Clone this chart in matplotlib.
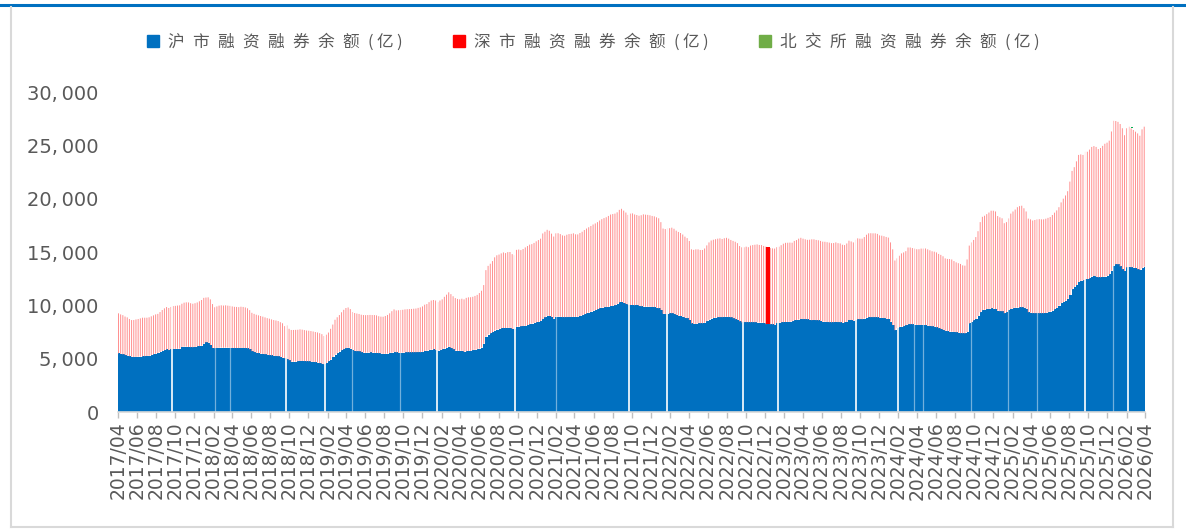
import pandas as pd
import matplotlib
matplotlib.use('Agg')
import matplotlib.pyplot as plt
from matplotlib.lines import Line2D
from matplotlib.font_manager import FontProperties

# weekly (Friday) margin balances in 100m yuan
start_week = '2017-04-14'

# Shanghai balance (blue)
sh_balance = [
    5500, 5450, 5400, 5330, 5280, 5230, 5190, 5150, 5170, 5190, 5200, 5210, 5220,
    5250, 5270, 5330, 5400, 5470, 5520, 5620, 5720, 5800, 5870, 5800, 5880, 5900,
    5920, 5930, 5940, 6100, 6130, 6130, 6100, 6070, 6060, 6100, 6150, 6180, 6230,
    6400, 6520, 6500, 6280, 6000, 5970, 6000, 6030, 6040, 6030, 6040, 6040, 6020,
    6000, 5990, 5990, 5990, 6010, 6000, 5990, 5960, 5880, 5700, 5620, 5560, 5520,
    5480, 5440, 5400, 5370, 5330, 5300, 5270, 5240, 5220, 5150, 5100, 5040, 4950,
    4850, 4720, 4720, 4730, 4750, 4780, 4780, 4770, 4750, 4740, 4720, 4700, 4670,
    4640, 4580, 4520, 4460, 4580, 4750, 4900, 5150, 5360, 5500, 5650, 5780, 5880,
    5970, 6020, 5950, 5820, 5720, 5690, 5680, 5600, 5570, 5560, 5570, 5580, 5570,
    5560, 5540, 5510, 5480, 5450, 5460, 5480, 5520, 5560, 5620, 5580, 5560, 5550,
    5570, 5580, 5580, 5580, 5580, 5580, 5590, 5600, 5600, 5650, 5720, 5740, 5800,
    5850, 5870, 5800, 5720, 5790, 5870, 5950, 6030, 6120, 6000, 5870, 5760, 5730,
    5730, 5740, 5640, 5690, 5720, 5740, 5790, 5840, 5880, 5950, 6040, 6400, 7060,
    7260, 7360, 7480, 7640, 7720, 7770, 7840, 7870, 7870, 7890, 7890, 7780, 7740,
    7990, 8010, 8020, 8050, 8080, 8150, 8210, 8290, 8350, 8400, 8450, 8530, 8700,
    8860, 9020, 9010, 8900, 8760, 8930, 8940, 8930, 8890, 8880, 8890, 8900, 8900,
    8920, 8920, 8930, 9000, 9070, 9150, 9240, 9320, 9400, 9490, 9550, 9630, 9720,
    9780, 9810, 9830, 9870, 9930, 9950, 10000, 10120, 10270, 10330, 10230, 10120, 10040,
    10030, 10030, 10000, 10030, 9960, 9900, 9880, 9875, 9875, 9870, 9850, 9830, 9780,
    9720, 9570, 9220, 9180, 9190, 9240, 9250, 9220, 9100, 9030, 9000, 8940, 8850,
    8790, 8620, 8300, 8250, 8260, 8310, 8310, 8310, 8370, 8500, 8640, 8760, 8810,
    8850, 8870, 8880, 8880, 8900, 8930, 8900, 8860, 8780, 8690, 8630, 8500, 8400,
    8410, 8420, 8410, 8410, 8410, 8400, 8390, 8390, 8390, 8340, 8230, 8250, 8220,
    8210, 8170, 8330, 8380, 8400, 8420, 8440, 8440, 8460, 8500, 8600, 8620, 8670,
    8710, 8700, 8700, 8680, 8650, 8600, 8620, 8600, 8580, 8540, 8470, 8470, 8430,
    8410, 8400, 8410, 8440, 8420, 8400, 8380, 8400, 8450, 8620, 8620, 8560, 8640,
    8690, 8690, 8690, 8760, 8840, 8880, 8880, 8880, 8880, 8870, 8840, 8820, 8800,
    8760, 8720, 8480, 8160, 7670, 7860, 7950, 8000, 8030, 8130, 8210, 8220, 8220,
    8200, 8170, 8160, 8160, 8170, 8150, 8100, 8060, 8020, 7990, 7930, 7850, 7770,
    7700, 7620, 7580, 7540, 7530, 7510, 7470, 7440, 7380, 7370, 7360, 7500, 8300,
    8420, 8580, 8720, 9000, 9350, 9540, 9590, 9640, 9670, 9710, 9700, 9650, 9500,
    9440, 9430, 9260, 9350, 9560, 9650, 9710, 9770, 9790, 9810, 9810, 9790, 9700,
    9350, 9320, 9260, 9250, 9250, 9250, 9250, 9250, 9280, 9340, 9420, 9500, 9620,
    9770, 9980, 10200, 10300, 10440, 10620, 10970, 11500, 11720, 11900, 12200, 12300, 12330,
    12440, 12460, 12520, 12700, 12750, 12680, 12620, 12620, 12660, 12700, 12750, 12900, 13250,
    13700, 13840, 13840, 13650, 13380, 13220, 13550, 13620, 13560, 13540, 13500, 13380, 13310,
    13480, 13620,
]

# Shanghai + Shenzhen (top of the red column)
total_balance = [
    9250, 9150, 9080, 8950, 8870, 8720, 8620, 8620, 8680, 8720, 8780, 8840, 8840,
    8840, 8880, 8970, 9060, 9150, 9200, 9370, 9560, 9720, 9840, 9750, 9850, 9930,
    9950, 9980, 10000, 10150, 10250, 10280, 10270, 10200, 10150, 10200, 10270, 10380, 10500,
    10700, 10730, 10750, 10560, 10120, 9820, 9900, 9970, 10000, 9980, 10000, 9970, 9950,
    9900, 9860, 9850, 9830, 9870, 9850, 9800, 9720, 9550, 9300, 9200, 9120, 9060,
    9000, 8940, 8870, 8800, 8750, 8680, 8620, 8580, 8530, 8420, 8320, 8050, 8120,
    7800, 7690, 7690, 7700, 7710, 7750, 7720, 7680, 7640, 7620, 7590, 7550, 7500,
    7460, 7390, 7300, 7120, 7250, 7450, 7800, 8200, 8650, 8880, 9090, 9350, 9580,
    9750, 9800, 9650, 9370, 9280, 9230, 9190, 9120, 9090, 9080, 9090, 9100, 9090,
    9090, 9060, 8980, 8940, 8930, 9000, 9100, 9250, 9450, 9620, 9520, 9540, 9560,
    9580, 9620, 9640, 9650, 9660, 9680, 9700, 9760, 9810, 9900, 10060, 10120, 10300,
    10450, 10500, 10450, 10300, 10450, 10560, 10800, 11000, 11220, 11050, 10850, 10680, 10600,
    10560, 10620, 10560, 10700, 10750, 10760, 10800, 10880, 10980, 11150, 11370, 11900, 13300,
    13700, 13900, 14150, 14500, 14690, 14760, 14870, 14960, 14900, 14990, 15000, 14800, 14700,
    15200, 15230, 15180, 15280, 15430, 15560, 15690, 15740, 15850, 16000, 16120, 16250, 16740,
    16900, 17080, 16990, 16720, 16450, 16750, 16760, 16680, 16560, 16520, 16620, 16680, 16700,
    16750, 16660, 16650, 16780, 16900, 17060, 17200, 17320, 17440, 17580, 17680, 17800, 17950,
    18080, 18180, 18260, 18380, 18510, 18560, 18600, 18720, 18950, 19050, 18880, 18700, 18480,
    18600, 18620, 18520, 18470, 18400, 18450, 18530, 18500, 18480, 18440, 18380, 18340, 18250,
    18160, 17800, 17200, 17150, 17220, 17230, 17280, 17180, 17000, 16880, 16780, 16640, 16440,
    16300, 16030, 15250, 15200, 15250, 15250, 15190, 15190, 15330, 15620, 15900, 16080, 16150,
    16200, 16250, 16280, 16220, 16290, 16330, 16250, 16130, 16040, 15960, 15830, 15560, 15440,
    15440, 15500, 15450, 15600, 15650, 15680, 15710, 15660, 15650, 15570, 15500, 15440, 15370,
    15340, 15320, 15450, 15500, 15640, 15780, 15860, 15870, 15880, 15870, 16040, 16120, 16250,
    16330, 16250, 16190, 16140, 16150, 16190, 16190, 16130, 16100, 16040, 15970, 15960, 15920,
    15880, 15830, 15840, 15900, 15830, 15800, 15680, 15650, 15800, 16060, 15990, 15900, 16150,
    16280, 16250, 16250, 16400, 16620, 16750, 16760, 16750, 16750, 16700, 16560, 16530, 16480,
    16410, 16350, 15900, 15250, 14200, 14400, 14650, 14870, 14960, 15080, 15420, 15420, 15370,
    15320, 15260, 15260, 15320, 15320, 15330, 15250, 15160, 15070, 15030, 14960, 14820, 14730,
    14600, 14400, 14350, 14340, 14300, 14150, 14030, 13950, 13880, 13750, 13720, 14300, 15600,
    15900, 16130, 16400, 16950, 17800, 18300, 18400, 18550, 18700, 18870, 18870, 18800, 18370,
    18250, 18160, 17700, 17800, 18150, 18600, 18800, 18980, 19200, 19300, 19340, 19100, 18800,
    18130, 18060, 17950, 18000, 18060, 18080, 18060, 18060, 18120, 18200, 18280, 18470, 18690,
    18900, 19200, 19650, 20000, 20300, 20700, 21600, 22600, 22950, 23500, 24100, 24150, 24100,
    24400, 24400, 24600, 24850, 24930, 24850, 24650, 24750, 24950, 25150, 25250, 25440, 26300,
    27300, 27280, 27200, 27000, 26600, 25950, 26600, 26750, 26590, 26440, 26280, 26120, 25900,
    26500, 26750,
]

# Beijing exchange balance: only visible as one small mark near the end
bse_dates = ['2026-02-27']
bse_balance = [110]

# week that shows up as a solid red column in the original
highlight_date = '2022-12-23'

# market closures that leave white gaps in the columns
holiday_gaps = ['2017-10-04', '2018-10-04', '2019-02-06', '2020-01-29', '2020-10-05',
                '2021-10-04', '2022-02-03', '2022-10-04', '2023-01-25', '2023-10-02',
                '2024-02-13', '2025-10-04', '2026-02-18']
light_gaps = ['2018-02-18', '2018-04-06', '2019-05-02', '2019-10-04', '2021-02-14',
              '2024-04-05', '2024-05-03', '2024-10-04', '2025-01-31', '2025-05-03',
              '2026-01-01']

series_names = ['沪市融资融券余额(亿)', '深市融资融券余额(亿)', '北交所融资融券余额(亿)']

blue = '#0070C0'
red_light = '#FF8A8A'
red = '#FF0000'
green = '#70AD47'
grey_text = '#595959'

dates = pd.date_range(start_week, periods=len(sh_balance), freq='W-FRI')
sh = pd.Series(sh_balance, index=dates)
sz = pd.Series(total_balance, index=dates) - sh

fig = plt.figure(figsize=(11.86, 5.30), dpi=100)
ax = fig.add_axes([118 / 1186, 1 - 412 / 530, (1145 - 118) / 1186, 320 / 530])

ax.bar(dates, sh, width=7.6, align='edge', color=blue, linewidth=0, zorder=2)
ax.bar(dates, sz, bottom=sh, width=3.0, align='edge', color=red_light, linewidth=0,
       zorder=2, snap=False)

hl = pd.Timestamp(highlight_date)
ax.bar([hl - pd.Timedelta(days=4)], [sz[hl]], bottom=[sh[hl]], width=13, align='edge',
       color=red, linewidth=0, zorder=4)

bse_x = pd.to_datetime(bse_dates)
ax.bar(bse_x, bse_balance, bottom=[sh[d] + sz[d] for d in bse_x], width=6, align='edge',
       color='#00B050', linewidth=0, zorder=4)

for d in holiday_gaps:
    ax.axvline(pd.Timestamp(d), ymin=0.004, color='white', lw=1.2, zorder=3)
for d in light_gaps:
    ax.axvline(pd.Timestamp(d), ymin=0.004, color='white', lw=0.9, alpha=0.45, zorder=3)

ax.set_ylim(0, 30000)
ax.set_yticks(range(0, 30001, 5000))
ax.set_yticklabels([f'{v:,}'.replace(',', ',\u2009') for v in range(0, 30001, 5000)])
ax.set_xlim(pd.Timestamp(start_week), pd.Timestamp('2026-04-14'))
xt = pd.date_range(start_week, '2026-04-14', freq=pd.DateOffset(months=2))
ax.set_xticks(xt)
ax.set_xticklabels([d.strftime('%Y/%m') for d in xt], rotation=90)

for s in ['top', 'right', 'left']:
    ax.spines[s].set_visible(False)
ax.spines['bottom'].set_color('#D9D9D9')
ax.spines['bottom'].set_linewidth(1.2)
ax.spines['bottom'].set_zorder(5)
ax.tick_params(axis='y', length=0, pad=14, labelsize=14, labelcolor=grey_text)
ax.tick_params(axis='x', length=4, width=1, color='#BFBFBF', pad=3,
               labelsize=13.5, labelcolor=grey_text)

# legend: the original spaces out every character
leg_font = FontProperties(family=['Noto Sans CJK SC', 'DejaVu Sans'], size=12)
handles = [Line2D([], [], marker='s', linestyle='', markersize=8, color=c)
           for c in [blue, red, green]]
spaced = ['\u2002'.join(name[:-3]) + '\u2002(\u2009亿\u2009)' for name in series_names]
fig.legend(handles, spaced, loc='center', bbox_to_anchor=(0.5, 1 - 42 / 530), ncol=3,
           frameon=False, prop=leg_font, labelcolor=grey_text, handletextpad=0.5,
           columnspacing=3.0, handlelength=0.8)

# outer frame of the original picture
fig.add_artist(Line2D([0, 1], [1 - 5 / 530, 1 - 5 / 530], color=blue, lw=2.2))
fig.add_artist(Line2D([11 / 1186, 11 / 1186], [1 - 527 / 530, 1 - 7 / 530], color='#D9D9D9', lw=1.5))
fig.add_artist(Line2D([1173 / 1186, 1173 / 1186], [1 - 527 / 530, 1 - 7 / 530], color='#D9D9D9', lw=1.5))
fig.add_artist(Line2D([11 / 1186, 1173 / 1186], [1 - 527 / 530, 1 - 527 / 530], color='#D9D9D9', lw=1.5))

fig.savefig('out.png', dpi=100)
